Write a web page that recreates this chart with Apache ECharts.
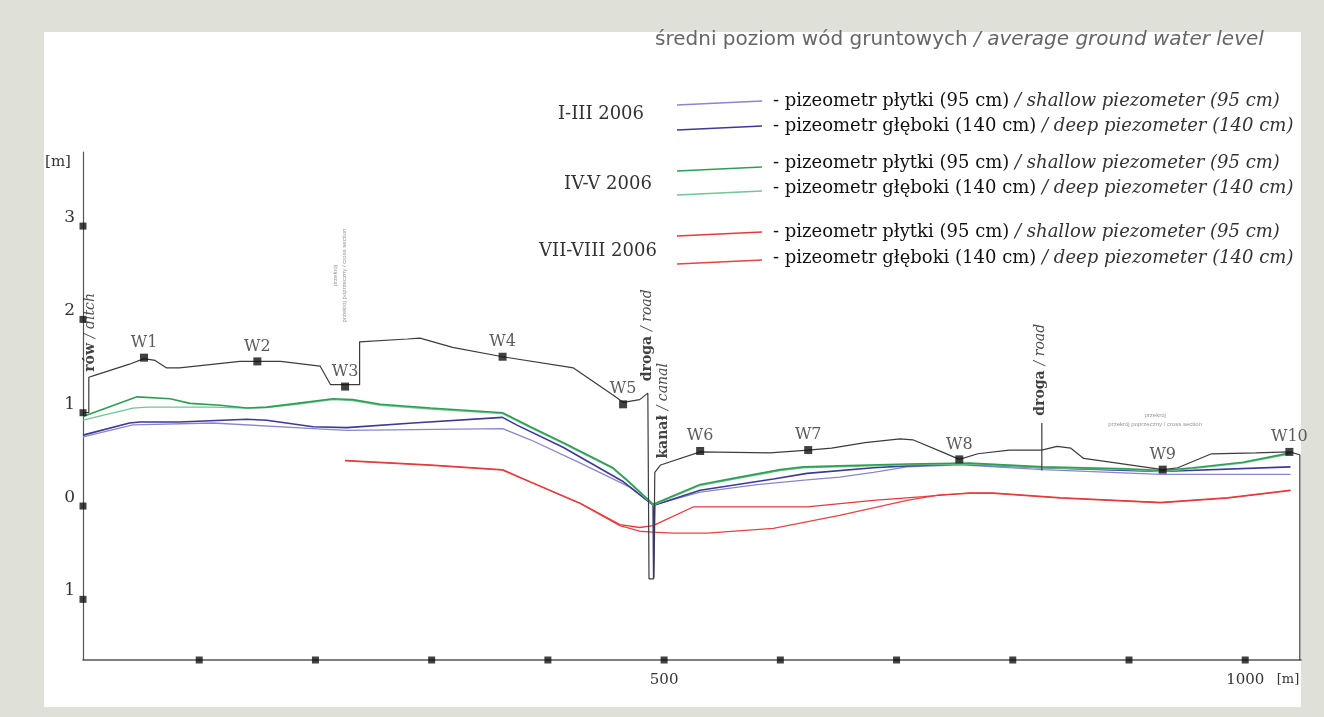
<!DOCTYPE html>
<html><head><meta charset="utf-8">
<script src="https://cdn.jsdelivr.net/npm/echarts@6/dist/echarts.min.js"></script>
<style>
html,body{margin:0;padding:0;background:#dfe0d8;overflow:hidden;}
#panel{position:absolute;left:44px;top:32px;width:1257px;height:675px;background:#fff;}
#chart{position:absolute;left:0;top:0;width:1324px;height:717px;}
</style></head><body>
<div id="panel"></div><div id="chart"></div>
<script>
// ---- data (distance [m], level [m]) ----
const ground = [[0,1.0],[5,1.0],[5,1.38],[10,1.40],[40,1.52],[52.5,1.58],[62,1.56],[72,1.48],[83,1.48],[135,1.55],[150,1.55],[170,1.55],[204,1.50],[213,1.30],[238,1.30],[238,1.76],[279,1.79],[290,1.80],[318,1.70],[361,1.60],[422,1.48],[456,1.19],[465,1.11],[479,1.14],[486,1.21],[487,-0.78],[491,-0.78],[492,0.36],[497,0.44],[531,0.58],[591,0.57],[624,0.60],[644,0.62],[673,0.68],[703,0.72],[714,0.71],[741,0.57],[754,0.50],[770,0.56],[797,0.60],[825,0.60],[825,0.89],[825,0.38],[825,0.60],[838,0.64],[850,0.62],[861,0.51],[890,0.46],[929,0.39],[942,0.41],[971,0.56],[1009,0.57],[1038,0.58],[1047,0.55],[1047,-1.65]];

const shallowI_III = [[0,0.74],[43,0.87],[112,0.89],[198,0.83],[227,0.81],[361,0.83],[385,0.71],[428,0.46],[471,0.20],[490.5,0.01],[531,0.15],[580,0.23],[623,0.28],[651,0.31],[680,0.36],[709,0.42],[755,0.44],[826,0.39],[927,0.34],[1039,0.34]];
const deepI_III = [[0,0.76],[40,0.89],[49,0.90],[83,0.90],[141,0.93],[158,0.92],[198,0.85],[227,0.84],[284,0.89],[361,0.95],[373,0.87],[413,0.63],[465,0.26],[490.5,0.01],[491,-0.77],[492,0.01],[531,0.17],[594,0.29],[623,0.35],[680,0.41],[709,0.43],[755,0.45],[826,0.41],[927,0.37],[1039,0.42]];
const shallowIV_V = [[0,0.96],[46.5,1.17],[75,1.15],[92,1.10],[118,1.08],[141,1.05],[158,1.06],[184,1.10],[215,1.15],[232,1.14],[256,1.09],[299,1.05],[361,1.00],[385,0.85],[413,0.68],[456,0.41],[468,0.28],[490.5,0.02],[531,0.23],[565,0.31],[600,0.39],[620,0.42],[651,0.43],[709,0.45],[763,0.46],[826,0.42],[898,0.40],[929,0.38],[955,0.41],[998,0.47],[1039,0.57]];
const deepIV_V = [[0,0.92],[43,1.05],[55,1.06],[112,1.06],[141,1.05],[158,1.055],[184,1.09],[215,1.14],[232,1.13],[256,1.08],[299,1.04],[361,0.99],[385,0.84],[413,0.67],[456,0.40],[468,0.27],[490.5,0.01],[531,0.22],[565,0.30],[600,0.38],[620,0.41],[651,0.42],[709,0.44],[763,0.45],[826,0.41],[898,0.39],[929,0.37],[955,0.40],[998,0.46],[1039,0.56]];
const shallowVII_VIII = [[225.5,0.49],[299,0.44],[361,0.39],[385,0.26],[428,0.03],[462,-0.20],[479,-0.23],[490.5,-0.21],[525,-0.01],[565,-0.01],[623,-0.01],[680,0.06],[723,0.10],[763,0.14],[783,0.14],[841,0.09],[927,0.04],[985,0.09],[1039,0.17]];
const deepVII_VIII = [[225.5,0.485],[299,0.435],[361,0.385],[385,0.255],[428,0.025],[462,-0.21],[479,-0.27],[490.5,-0.28],[508,-0.29],[537,-0.29],[594,-0.24],[651,-0.10],[709,0.06],[737,0.12],[763,0.135],[783,0.135],[841,0.085],[927,0.035],[985,0.085],[1039,0.165]];

const wellNames = ['W1','W2','W3','W4','W5','W6','W7','W8','W9','W10'];
const wellX = [52.5,150,225.5,361,464.7,531,624,754,929,1038];
const wellY = [1.59,1.55,1.28,1.60,1.09,0.59,0.60,0.50,0.39,0.58];

const yTicks = [-1,0,1,2,3];
const xTicks = [100,200,300,400,500,600,700,800,900,1000];
const xLabelValues = [500,1000];

const noteTexts = ['rów / ditch','droga / road','kanał / canal','droga / road'];
const noteX = [6,485.4,499,824];
const noteY = [1.86,1.83,1.02,1.46];

const smallNoteLines = ['przekrój','przekrój poprzeczny / cross section'];
const smallNoteX = [221,922.5];
const smallNoteY = [2.47,0.92];

const titlePl = 'średni poziom wód gruntowych';
const titleEn = '/ average ground water level';
const periods = ['I-III 2006','IV-V 2006','VII-VIII 2006'];
const legendPl = ['- pizeometr płytki (95 cm) ','- pizeometr głęboki (140 cm) '];
const legendEn = ['/ shallow piezometer (95 cm)','/ deep piezometer (140 cm)'];

// ---- styling ----
const Y_MIN = -1.65, Y_MAX = 3.794, X_MAX = 1048;
const colors = {
  sI: '#8a86cc', dI: '#3d3a94',
  sIV: '#2f9e55', dIV: '#74c495',
  sVII: '#e8393a', dVII: '#e34545'
};
const serif = '"DejaVu Serif", "Liberation Serif", serif';
const sans = '"DejaVu Sans", "Liberation Sans", sans-serif';

function lineSeries(name, data, color, w, z) {
  return {name, type:'line', data, symbol:'none', clip:false, z: z||2,
    lineStyle:{color, width:w||1.3}, animation:false};
}

const chart = echarts.init(document.getElementById('chart'), null, {renderer:'canvas'});

const legendColors = [colors.sI, colors.dI, colors.sIV, colors.dIV, colors.sVII, colors.dVII];
const legendTextY = [101,126,163,188,232,258];
const lineYs = [103,128,169,193,234,262];
const periodY = [114,184,251];
const periodX = [601,608,598];

const graphics = [];
graphics.push({type:'text', left:655, top:30, style:{
  rich:{a:{fontFamily:sans, fontSize:20, fill:'#666'},
        b:{fontFamily:sans, fontSize:20, fill:'#666', fontStyle:'italic'}},
  text:'{a|'+titlePl+' }{b|'+titleEn+'}'}});
legendColors.forEach((c,i)=>{
  graphics.push({type:'line', shape:{x1:677,y1:lineYs[i]+2,x2:762,y2:lineYs[i]-2},
    style:{stroke:c, lineWidth:1.5}});
  const t = i % 2;
  graphics.push({type:'text', x:773, y:legendTextY[i], style:{
    rich:{a:{fontFamily:serif, fontSize:18, fill:'#111'},
          b:{fontFamily:serif, fontSize:18, fill:'#333', fontStyle:'italic'}},
    text:'{a|'+legendPl[t]+'}{b|'+legendEn[t]+'}', verticalAlign:'middle'}});
});
periods.forEach((p,i)=>{
  graphics.push({type:'text', x:periodX[i], y:periodY[i], style:{text:p, fontFamily:serif,
    fontSize:18, fill:'#333', align:'center', verticalAlign:'middle'}});
});
graphics.push({type:'text', x:58, y:162, style:{text:'[m]', fontFamily:serif, fontSize:15, fill:'#333', align:'center', verticalAlign:'middle'}});
graphics.push({type:'text', x:1288, y:680, style:{text:'[m]', fontFamily:serif, fontSize:13, fill:'#333', align:'center', verticalAlign:'middle'}});

const option = {
  animation:false,
  backgroundColor:'transparent',
  grid:{left:83, top:152, width:1218, height:508, outerBoundsMode:'none'},
  xAxis:{type:'value', min:0, max:X_MAX,
    axisLine:{onZero:false, lineStyle:{color:'#555', width:1.6}}, axisTick:{show:false}, splitLine:{show:false},
    axisLabel:{customValues:xLabelValues, formatter:v=>String(v), fontFamily:serif, fontSize:15, color:'#333', margin:13}},
  yAxis:{type:'value', min:Y_MIN, max:Y_MAX,
    axisLine:{show:true, onZero:false, lineStyle:{color:'#555', width:1.2}}, axisTick:{show:false}, splitLine:{show:false},
    axisLabel:{customValues:yTicks, formatter:v=>String(Math.abs(v)), fontFamily:serif, fontSize:17,
      color:'#333', margin:8, verticalAlign:'bottom'}},
  graphic:graphics,
  series:[
    lineSeries('VII-VIII deep', deepVII_VIII, colors.dVII, 1.3, 2),
    lineSeries('VII-VIII shallow', shallowVII_VIII, colors.sVII, 1.3, 2),
    lineSeries('I-III shallow', shallowI_III, colors.sI, 1.3, 3),
    lineSeries('I-III deep', deepI_III, colors.dI, 1.6, 3),
    lineSeries('IV-V deep', deepIV_V, colors.dIV, 1.3, 4),
    lineSeries('IV-V shallow', shallowIV_V, colors.sIV, 1.6, 4),
    lineSeries('ground', ground, '#3c3c3c', 1.2, 5),
    {type:'scatter', name:'wells', z:6, clip:false, symbol:'rect', symbolSize:8,
      itemStyle:{color:'#111'},
      data: wellX.map((x,i)=>({name:wellNames[i], value:[x, wellY[i]]})),
      label:{show:true, position:'top', distance:3, formatter:p=>p.name,
        fontFamily:serif, fontSize:16, color:'#333'}},
    {type:'scatter', name:'ticks', z:6, clip:false, symbol:'rect', symbolSize:7,
      itemStyle:{color:'#111'},
      data: yTicks.map(v=>[0,v]).concat(xTicks.map(v=>[v,Y_MIN]))},
    {type:'scatter', name:'notes', z:7, clip:false, symbolSize:1, itemStyle:{color:'transparent'},
      data: noteTexts.map((t,i)=>({name:t, value:[noteX[i], noteY[i]]})),
      label:{show:true, position:'inside', rotate:90, fontFamily:serif, fontSize:14, color:'#111',
        formatter:p=>{const s=p.name.split(' / '); return '{a|'+s[0]+' }{b|/ '+s[1]+'}';},
        rich:{a:{fontFamily:serif, fontSize:14, color:'#111', fontWeight:'bold'},
              b:{fontFamily:serif, fontSize:14, color:'#222', fontStyle:'italic'}}}},
    {type:'scatter', name:'smallnotes', z:7, clip:false, symbolSize:1, itemStyle:{color:'transparent'},
      data: smallNoteX.map((x,i)=>({value:[x, smallNoteY[i]], label:{rotate: i===0?90:0}})),
      label:{show:true, position:'inside', fontFamily:'"Liberation Sans", sans-serif', fontSize:6, color:'#777',
        lineHeight:9, align:'center', formatter:()=>smallNoteLines.join('\n')}}
  ]
};
chart.setOption(option);
</script>
</body></html>
